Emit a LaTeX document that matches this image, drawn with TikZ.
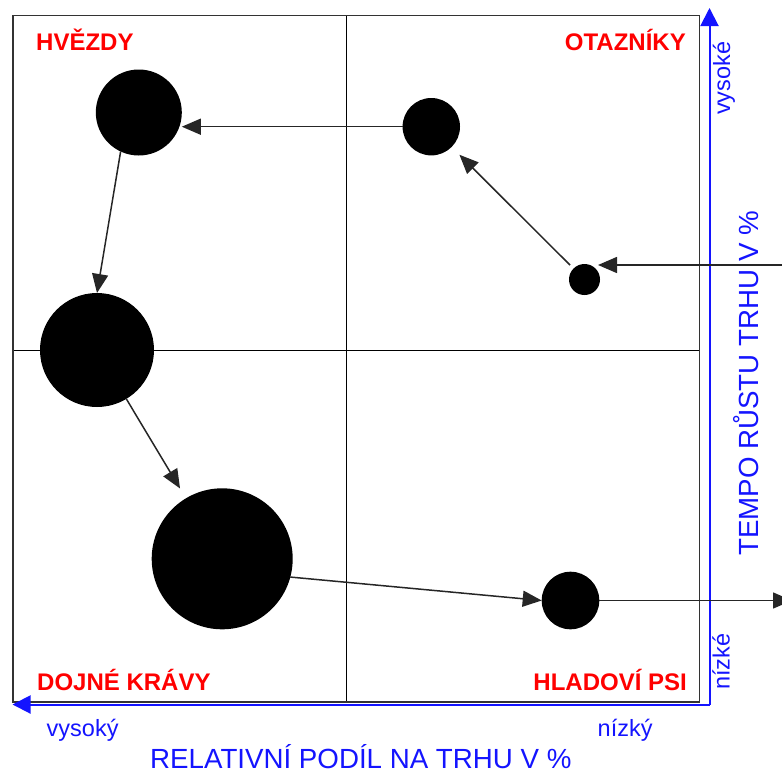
\documentclass[tikz,border=0pt]{standalone}
\usepackage{fontspec}
\setmainfont{Liberation Sans}
\usetikzlibrary{arrows.meta}
\definecolor{axisblue}{RGB}{20,20,255}
\definecolor{labred}{RGB}{255,0,0}
\tikzset{
  dot/.style={circle, fill=black, draw=none, inner sep=0pt, outer sep=0pt},
  flow/.style={draw=black!85, line width=1.5pt, -{Triangle[length=19pt,width=16pt]}},
  boxline/.style={draw=black!80, line width=1.8pt},
  midline/.style={draw=black, line width=1.3pt},
  axisline/.style={draw=axisblue, line width=2pt, -{Triangle[length=18pt,width=18pt]}},
  quadlabel/.style={text=labred, font=\fontsize{24}{28}\selectfont\bfseries, inner sep=0pt},
  axistitle/.style={text=axisblue, font=\fontsize{27.7}{32}\selectfont, inner sep=0pt},
  axisnote/.style={text=axisblue, font=\fontsize{23.5}{28}\selectfont, inner sep=0pt},
}
\begin{document}
\begin{tikzpicture}[x=1pt, y=-1pt]
\useasboundingbox (0,0) rectangle (782,774);
% frame and quadrant lines
\coordinate (tl) at (13,15.5);
\coordinate (br) at (699.5,702);
\coordinate (mtop) at (346.7,15.5);
\coordinate (mbot) at (346.7,702);
\coordinate (mleft) at (13,350.5);
\coordinate (mright) at (699.5,350.5);
\draw[midline] (mtop) -- (mbot);
\draw[midline] (mleft) -- (mright);
\draw[boxline] (tl) rectangle (br);
% blue axes
\coordinate (corner) at (709.5,704.5);
\coordinate (ytip) at (709.5,8);
\coordinate (xtip) at (12.5,704.5);
\draw[axisline] (corner) -- (ytip);
\draw[axisline] (corner) -- (xtip);
% circles
\node[dot, minimum size=86pt] (hvezdy) at (138.8,112.5) {};
\node[dot, minimum size=57.4pt] (otaz) at (431.3,126.7) {};
\node[dot, minimum size=31pt] (small) at (584.5,279.5) {};
\node[dot, minimum size=114pt] (dojne1) at (97,350) {};
\node[dot, minimum size=141pt] (dojne2) at (222.2,558.8) {};
\node[dot, minimum size=57.6pt] (hladovi) at (570.5,600.5) {};
% outside coordinates
\coordinate (inR) at (800,265);
\coordinate (smallTip) at (598,265);
\coordinate (outR) at (792,600.5);
% arrows
\draw[flow] (otaz.west) -- (otaz.west -| hvezdy.east);
\draw[flow] (hvezdy.245) -- (dojne1.north);
\draw[flow, shorten <=5pt, shorten >=11pt] (small) -- (otaz);
\draw[flow] (inR) -- (smallTip);
\draw[flow, shorten >=11.5pt] (dojne1) -- (dojne2);
\draw[flow] (dojne2.-15.6) -- (hladovi.west);
\draw[flow] (hladovi.east) -- (outR);
% quadrant labels
\node[quadlabel, anchor=base west] (lHv) at (36,50.5) {HVĚZDY};
\node[quadlabel, anchor=base east] (lOt) at (686,50) {OTAZNÍKY};
\node[quadlabel, anchor=base west] (lDo) at (37,690) {DOJNÉ KRÁVY};
\node[quadlabel, anchor=base east] (lHl) at (687,690) {HLADOVÍ PSI};
% axis labels
\node[axisnote, anchor=base west] (lVy) at (46.5,736) {vysoký};
\node[axisnote, anchor=base west] (lNi) at (597.5,736) {nízký};
\node[axistitle, anchor=base west] (lRel) at (150,768) {RELATIVNÍ PODÍL NA TRHU V \%};
\node[axistitle, anchor=base west, rotate=90] (lTem) at (758,556) {TEMPO RŮSTU TRHU V \%};
\node[axisnote, anchor=base west, rotate=90] (lVye) at (730,115) {vysoké};
\node[axisnote, anchor=base west, rotate=90] (lNie) at (729.5,690) {nízké};
\end{tikzpicture}
\end{document}
